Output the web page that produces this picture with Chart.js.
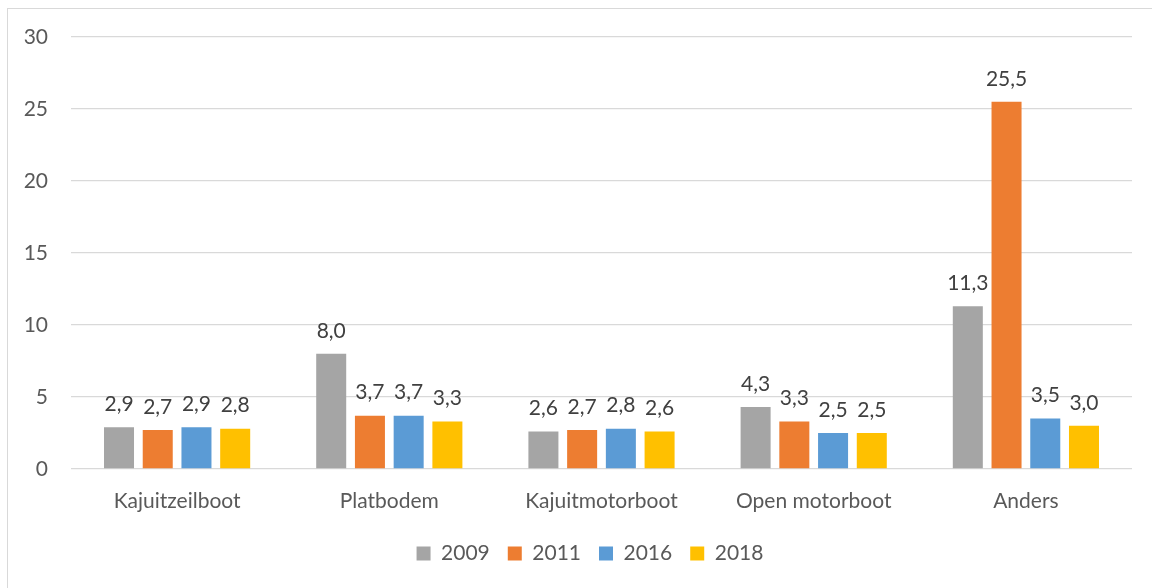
<!DOCTYPE html>
<html>
<head>
<meta charset="utf-8">
<script src="https://cdn.jsdelivr.net/npm/chart.js@4.4.0/dist/chart.umd.min.js"></script>
<style>
  html, body { margin: 0; padding: 0; background: #fff; }
  body { width: 1152px; height: 588px; position: relative; overflow: hidden; }
  #frame { position: absolute; left: 7px; top: 8px; width: 1200px; height: 640px; border: 1px solid #d9d9d9; box-sizing: border-box; }
  #wrap { position: absolute; left: 0; top: 0; width: 1152px; height: 588px; }
</style>
</head>
<body>
<div id="frame"></div>
<div id="wrap"><canvas id="c" width="1152" height="588"></canvas></div>
<script>
const categories = ["Kajuitzeilboot", "Platbodem", "Kajuitmotorboot", "Open motorboot", "Anders"];
const seriesNames = ["2009", "2011", "2016", "2018"];
const values2009 = [2.9, 8.0, 2.6, 4.3, 11.3];
const values2011 = [2.7, 3.7, 2.7, 3.3, 25.5];
const values2016 = [2.9, 3.7, 2.8, 2.5, 3.5];
const values2018 = [2.8, 3.3, 2.6, 2.5, 3.0];
const yTicks = [0, 5, 10, 15, 20, 25, 30];
const colors = ["#A5A5A5", "#ED7D31", "#5B9BD5", "#FFC000"];

const FONT = "Lato, 'Open Sans', sans-serif";
const fmt = v => v.toFixed(1).replace('.', ',');

const labelPlugin = {
  id: 'barValueLabels',
  afterDatasetsDraw(chart) {
    const ctx = chart.ctx;
    ctx.save();
    ctx.font = "21px " + FONT;
    ctx.fillStyle = "#404040";
    ctx.textAlign = "center";
    ctx.textBaseline = "middle";
    chart.data.datasets.forEach((ds, i) => {
      const meta = chart.getDatasetMeta(i);
      meta.data.forEach((el, j) => {
        ctx.fillText(fmt(ds.data[j]), el.x, el.y - 23);
      });
    });
    ctx.restore();
  }
};

// centre the legend on the whole chart frame rather than the area left of the right padding
const legendShift = {
  id: 'legendShift',
  afterLayout(chart) {
    const lg = chart.legend;
    if (lg) { lg.left += 24; lg.right += 24; }
  }
};

const allSeries = [values2009, values2011, values2016, values2018];

new Chart(document.getElementById('c'), {
  type: 'bar',
  data: {
    labels: categories,
    datasets: allSeries.map((d, i) => ({
      label: seriesNames[i],
      data: d,
      backgroundColor: colors[i],
      borderWidth: 0,
      categoryPercentage: 0.73,
      barPercentage: 0.775
    }))
  },
  options: {
    responsive: false,
    animation: false,
    devicePixelRatio: 1,
    layout: { padding: { left: 0, right: 20, top: 37, bottom: 14 } },
    plugins: {
      tooltip: { enabled: false },
      legend: {
        position: 'bottom',
        labels: {
          boxWidth: 14,
          boxHeight: 14,
          padding: 18,
          color: "#595959",
          font: { family: FONT, size: 21 }
        }
      }
    },
    scales: {
      x: {
        grid: { display: false },
        border: { display: false },
        ticks: { color: "#595959", font: { family: FONT, size: 21 }, padding: 12, maxRotation: 0, autoSkip: false },
        afterFit(scale) { scale.height = 56; }
      },
      y: {
        min: 0,
        max: 30,
        afterBuildTicks(scale) { scale.ticks = yTicks.map(v => ({ value: v })); },
        grid: { color: "#D9D9D9", lineWidth: 1.3, drawTicks: false },
        border: { display: false },
        ticks: { color: "#595959", font: { family: FONT, size: 21 }, padding: 23 },
        afterFit(scale) { scale.width = 71; }
      }
    }
  },
  plugins: [labelPlugin, legendShift]
});
</script>
</body>
</html>
